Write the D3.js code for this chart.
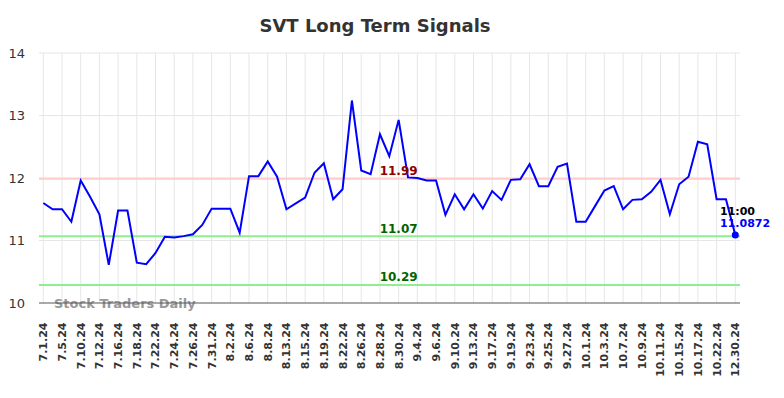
<!DOCTYPE html>
<html>
<head>
<meta charset="utf-8">
<script src="https://cdnjs.cloudflare.com/ajax/libs/d3/7.8.5/d3.min.js"></script>
<style>
  body { margin: 0; background: #fff; }
  svg { display: block; font-family: "DejaVu Sans", sans-serif; }
</style>
</head>
<body>
<div id="chart"></div>
<script>
// dates of every point (every other one gets a tick label)
var dates = ["7.1.24","7.3.24","7.5.24","7.9.24","7.10.24","7.11.24","7.12.24","7.15.24","7.16.24","7.17.24",
             "7.18.24","7.19.24","7.22.24","7.23.24","7.24.24","7.25.24","7.26.24","7.30.24","7.31.24","8.1.24",
             "8.2.24","8.5.24","8.6.24","8.7.24","8.8.24","8.12.24","8.13.24","8.14.24","8.15.24","8.16.24",
             "8.19.24","8.21.24","8.22.24","8.23.24","8.26.24","8.27.24","8.28.24","8.29.24","8.30.24","9.3.24",
             "9.4.24","9.5.24","9.6.24","9.9.24","9.10.24","9.12.24","9.13.24","9.16.24","9.17.24","9.18.24",
             "9.19.24","9.20.24","9.23.24","9.24.24","9.25.24","9.26.24","9.27.24","9.30.24","10.1.24","10.2.24",
             "10.3.24","10.4.24","10.7.24","10.8.24","10.9.24","10.10.24","10.11.24","10.14.24","10.15.24","10.16.24",
             "10.17.24","10.18.24","10.22.24","10.23.24","12.30.24"];
var prices = [11.60,11.50,11.50,11.30,11.96,11.70,11.42,10.61,11.48,11.48,
              10.645,10.62,10.80,11.06,11.05,11.07,11.10,11.25,11.51,11.51,
              11.51,11.125,12.03,12.03,12.265,12.02,11.50,11.595,11.685,12.085,
              12.235,11.66,11.82,13.24,12.12,12.06,12.70,12.35,12.93,12.01,
              12.00,11.96,11.96,11.41,11.74,11.50,11.74,11.51,11.79,11.65,
              11.97,11.98,12.22,11.87,11.87,12.18,12.23,11.30,11.30,11.55,
              11.80,11.87,11.50,11.65,11.66,11.78,11.97,11.42,11.90,12.02,
              12.58,12.54,11.66,11.66,11.0872];
var yTicks = [10, 11, 12, 13, 14];
var levels = [
  { value: 11.99, line: "#ffcccc", text: "#8b0000" },
  { value: 11.07, line: "#90ee90", text: "#006400" },
  { value: 10.29, line: "#90ee90", text: "#006400" }
];
var lastTime = "11:00";

var width = 784, height = 398;
var margin = { top: 53, right: 44, bottom: 95, left: 39 };

var svg = d3.select("#chart").append("svg")
    .attr("width", width)
    .attr("height", height);

svg.append("text")
    .attr("x", 375)
    .attr("y", 32)
    .attr("text-anchor", "middle")
    .style("font-size", "18px")
    .style("font-weight", "bold")
    .style("fill", "#333")
    .text("SVT Long Term Signals");

var x = d3.scalePoint()
    .domain(dates)
    .range([margin.left + 4.3, width - margin.right - 4.7]);

var y = d3.scaleLinear()
    .domain([10, 14])
    .range([height - margin.bottom, margin.top]);

var plot = svg.append("g");

// vertical grid at labelled dates
var labelled = dates.filter(function(d, i) { return i % 2 == 0; });
plot.selectAll(".vgrid")
    .data(labelled)
    .enter()
    .append("line")
      .attr("x1", function(d) { return x(d); })
      .attr("x2", function(d) { return x(d); })
      .attr("y1", y(14))
      .attr("y2", y(10))
      .style("stroke", "#e6e6e6")
      .style("stroke-width", 1);

// horizontal grid
plot.selectAll(".hgrid")
    .data(yTicks.filter(function(t) { return t > 10; }))
    .enter()
    .append("line")
      .attr("x1", margin.left)
      .attr("x2", width - margin.right)
      .attr("y1", function(d) { return y(d); })
      .attr("y2", function(d) { return y(d); })
      .style("stroke", "#e6e6e6")
      .style("stroke-width", 1);

// y tick labels
svg.selectAll(".ylab")
    .data(yTicks)
    .enter()
    .append("text")
      .attr("x", 25)
      .attr("y", function(d) { return y(d); })
      .attr("dy", "0.35em")
      .attr("text-anchor", "end")
      .style("font-size", "13px")
      .style("fill", "#333")
      .text(function(d) { return d; });

// x tick labels
svg.selectAll(".xlab")
    .data(labelled)
    .enter()
    .append("text")
      .attr("transform", function(d) { return "translate(" + x(d) + "," + 322.5 + ") rotate(-90)"; })
      .attr("dy", "0.36em")
      .attr("text-anchor", "end")
      .style("font-size", "11px")
      .style("font-weight", "bold")
      .style("fill", "#333")
      .text(function(d) { return d; });

// signal levels
plot.selectAll(".level")
    .data(levels)
    .enter()
    .append("line")
      .attr("x1", margin.left)
      .attr("x2", width - margin.right)
      .attr("y1", function(d) { return y(d.value); })
      .attr("y2", function(d) { return y(d.value); })
      .style("stroke", function(d) { return d.line; })
      .style("stroke-width", 2);

// watermark
svg.append("text")
    .attr("x", 54)
    .attr("y", 307.5)
    .style("font-size", "13px")
    .style("font-weight", "bold")
    .style("fill", "#999")
    .text("Stock Traders Daily");

// x axis line
svg.append("line")
    .attr("x1", margin.left)
    .attr("x2", width - margin.right)
    .attr("y1", y(10))
    .attr("y2", y(10))
    .style("stroke", "#555")
    .style("stroke-width", 1);

// price line
var line = d3.line()
    .x(function(d, i) { return x(dates[i]); })
    .y(function(d) { return y(d); });

plot.append("path")
    .datum(prices)
    .attr("d", line)
    .style("fill", "none")
    .style("stroke", "#0000ff")
    .style("stroke-width", 2);

// level labels
svg.selectAll(".levlab")
    .data(levels)
    .enter()
    .append("text")
      .attr("x", x(dates[38]))
      .attr("y", function(d) { return y(d.value) - 3.5; })
      .attr("text-anchor", "middle")
      .style("font-size", "12px")
      .style("font-weight", "bold")
      .style("fill", function(d) { return d.text; })
      .text(function(d) { return d.value.toFixed(2); });

// last point
var lastIdx = prices.length - 1;
var lx = x(dates[lastIdx]), ly = y(prices[lastIdx]);
svg.append("circle")
    .attr("cx", lx)
    .attr("cy", ly)
    .attr("r", 3.5)
    .style("fill", "#0000ff");
svg.append("text")
    .attr("x", 720)
    .attr("y", ly - 20.5)
    .style("font-size", "11px")
    .style("font-weight", "bold")
    .style("fill", "#000")
    .text(lastTime);
svg.append("text")
    .attr("x", 720)
    .attr("y", ly - 8)
    .style("font-size", "11px")
    .style("font-weight", "bold")
    .style("fill", "#0000ff")
    .text(prices[lastIdx]);
</script>
</body>
</html>
